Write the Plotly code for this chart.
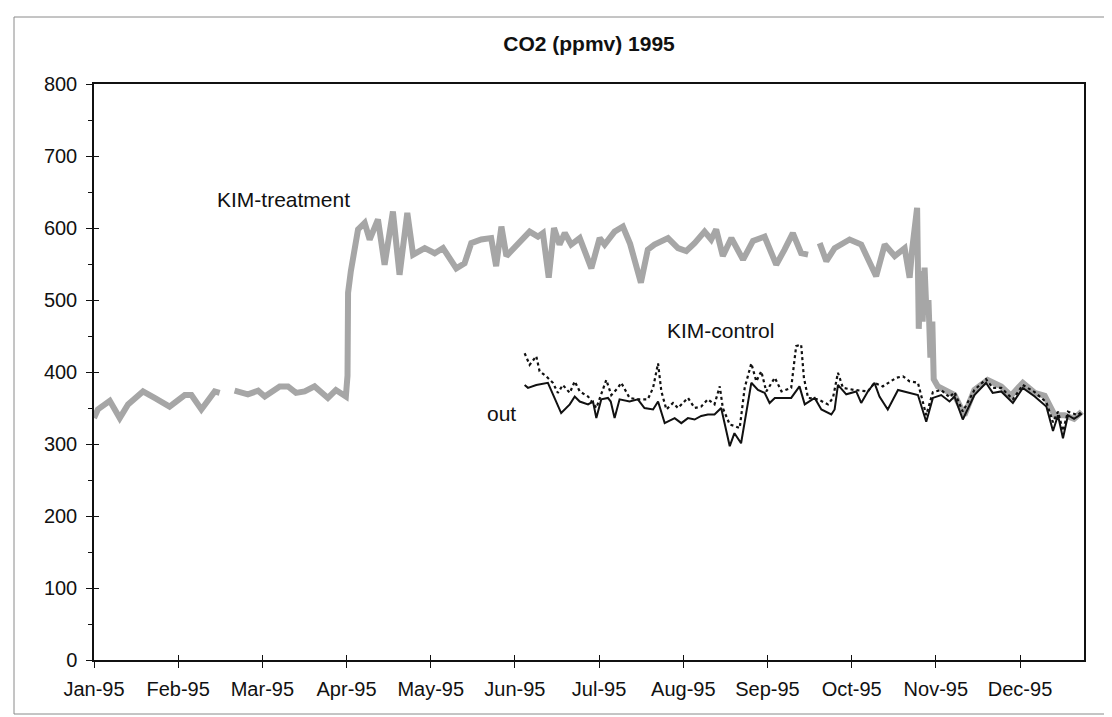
import plotly.graph_objects as go

# ---------------- data (day of 1995 axis, CO2 ppmv) ----------------
treat_day = [0, 1.4, 5.7, 9.3, 12.3, 17.7, 21.9, 27.3, 32.8, 35.2, 38.8, 43.6, 45.4, None,
             50.8, 55.6, 59.3, 61.7, 67.1, 70.1, 73.0, 76.1, 79.7, 84.5, 87.4, 91.0, 91.6,
             91.8, 92.8, 94.2, 95.4, 97.8, 99.6, 102.6, 105.0, 108.0, 110.4, 113.2, 115.3,
             119.5, 123.1, 126.1, 130.9, 133.9, 136.3, 139.9, 143.5, 145.3, 147.2, 149.0,
             153.2, 157.4, 160.4, 162.2, 164.3, 166.2, 168.2, 170.1, 172.4, 175.5, 179.7,
             182.7, 184.5, 188.1, 191.1, 193.7, 197.6, 200.1, 202.5, 207.4, 211.0, 214.0,
             217.0, 220.6, 223.0, 224.8, 227.2, 230.3, 234.5, 238.1, 242.3, 246.5, 249.5,
             252.5, 255.5, 258.0, None,
             262.2, 264.6, 267.6, 273.0, 277.2, 282.6, 285.7, 289.3, 292.9, 294.7, 295.6,
             296.5, 297.4, 298.0, 298.7, 299.4, 300.1, 300.8, 301.5, 302.2, 302.9, 303.4,
             304.9, 310.9, 314.5, 318.1, 322.9, 327.8, 331.3, 335.6, 339.9, 343.5, 347.1,
             350.7, 354.1, 356.9]
treat_val = [336, 348, 360, 336, 355, 373, 364, 352, 368, 368, 348, 373, 371, None,
             374, 369, 374, 366, 380, 380, 371, 373, 380, 364, 375, 366, 395,
             510, 540, 577, 598, 607, 584, 612, 549, 623, 535, 621, 563,
             572, 565, 572, 544, 551, 579, 584, 586, 547, 602, 561,
             577, 595, 588, 593, 531, 600, 577, 593, 577, 586, 544,
             586, 577, 595, 602, 578, 524, 570, 577, 586, 572, 568,
             579, 595, 584, 598, 561, 586, 556, 582, 588, 549, 570,
             593, 565, 563, None,
             579, 554, 572, 584, 577, 533, 577, 561, 572, 531, 570,
             600, 628, 460, 540, 470, 545, 480, 500, 420, 470, 390,
             380, 368, 340, 375, 389, 380, 367, 385, 371, 367, 340,
             340, 335, 345]

ctrl_day = [155.6, 157.4, 159.8, 161.0, 163.4, 165.8, 167.6, 169.4, 171.9, 173.7, 175.5,
            178.5, 181.5, 185.1, 186.9, 189.3, 190.5, 193.5, 196.5, 200.1, 202.0, 203.8,
            205.0, 206.8, 209.2, 211.0, 214.6, 217.0, 219.4, 221.8, 224.2, 226.1, 227.2,
            229.7, 231.4, 233.3, 235.1, 237.5, 239.3, 241.1, 242.9, 246.0, 248.4, 251.9,
            253.7, 255.5, 256.5, 258.0, 261.6, 265.2, 267.0, 268.8, 270.6, 274.8, 279.6,
            282.0, 285.0, 289.9, 292.3, 294.7, 297.7, 300.7, 303.1, 306.1, 309.1, 310.9,
            313.9, 318.1, 322.3, 324.7, 327.8, 332.0, 335.6, 339.9, 344.1, 346.5, 348.3,
            350.1, 351.9, 355.5, 356.9]
ctrl_val = [426, 410, 422, 401, 394, 385, 371, 382, 371, 387, 373,
            366, 350, 389, 368, 378, 385, 364, 362, 362, 378, 412,
            373, 348, 357, 350, 364, 350, 352, 362, 355, 380, 350,
            327, 325, 322, 378, 412, 387, 401, 373, 392, 373, 378,
            436, 438, 392, 364, 362, 355, 364, 399, 378, 375, 373,
            385, 380, 392, 394, 387, 385, 340, 372, 375, 365, 372,
            345, 375, 390, 378, 378, 362, 382, 372, 358, 330, 345,
            318, 345, 340, 345]

out_day = [155.6, 156.8, 159.8, 164.0, 168.8, 171.9, 173.7, 175.5, 178.5, 180.3, 181.5,
           183.3, 185.7, 186.7, 188.1, 189.9, 193.5, 196.5, 198.9, 202.0, 203.8, 206.2,
           209.8, 212.2, 214.6, 217.0, 219.4, 221.8, 224.2, 226.6, 229.7, 231.4, 233.8,
           237.5, 239.9, 242.3, 244.1, 246.0, 247.1, 251.9, 254.9, 256.8, 260.4, 262.8,
           266.4, 267.6, 268.8, 271.8, 275.4, 277.2, 279.6, 282.0, 283.8, 286.8, 290.5,
           294.1, 297.7, 300.7, 303.1, 306.1, 309.1, 310.9, 313.9, 318.1, 322.3, 324.7,
           327.8, 332.0, 335.6, 339.9, 344.1, 346.5, 348.3, 350.1, 351.9, 354.1, 356.9]
out_val = [382, 378, 382, 385, 343, 355, 366, 359, 355, 359, 336,
           362, 364, 359, 336, 362, 359, 362, 350, 348, 359, 329,
           336, 329, 336, 334, 339, 341, 341, 350, 297, 315, 301,
           385, 375, 371, 357, 364, 364, 364, 380, 355, 364, 348,
           341, 348, 382, 369, 373, 357, 373, 385, 366, 348, 375,
           371, 368, 331, 364, 368, 359, 366, 334, 368, 385, 371,
           373, 357, 378, 366, 352, 318, 340, 308, 340, 335, 342]

month_labels = ["Jan-95", "Feb-95", "Mar-95", "Apr-95", "May-95", "Jun-95",
                "Jul-95", "Aug-95", "Sep-95", "Oct-95", "Nov-95", "Dec-95"]
month_pos = [i * 365 / 12 for i in range(12)]
y_ticks = [0, 100, 200, 300, 400, 500, 600, 700, 800]

FONT = "Liberation Sans, Arial, Helvetica, sans-serif"

fig = go.Figure()
fig.add_trace(go.Scatter(x=treat_day, y=treat_val, mode="lines", name="KIM-treatment",
                         line=dict(color="#a6a6a6", width=6), connectgaps=False))
fig.add_trace(go.Scatter(x=ctrl_day, y=ctrl_val, mode="lines", name="KIM-control",
                         line=dict(color="#111111", width=2.2, dash="dot")))
fig.add_trace(go.Scatter(x=out_day, y=out_val, mode="lines", name="out",
                         line=dict(color="#111111", width=2)))
# invisible trace to anchor the overlay axes that draw the inner half of crossing ticks
fig.add_trace(go.Scatter(x=[None], y=[None], xaxis="x2", yaxis="y2", showlegend=False,
                         hoverinfo="skip"))

xr = [0, 357.7]
yr = [0, 800]
fig.update_layout(
    width=1112, height=717,
    paper_bgcolor="white", plot_bgcolor="white",
    margin=dict(l=86, r=36, t=76, b=65),
    showlegend=False,
    font=dict(family=FONT, size=20, color="#111111"),
    title=dict(text="<b>CO2 (ppmv) 1995</b>", x=0.5225, xanchor="center",
               y=0.95, yanchor="middle", font=dict(size=21, family=FONT, color="#111111")),
    xaxis=dict(range=xr, tickmode="array", tickvals=month_pos, ticktext=month_labels,
               showgrid=False, zeroline=False, showline=True, linecolor="#111111",
               linewidth=1.5, mirror=True, ticks="outside", ticklen=6, tickcolor="#111111",
               tickfont=dict(size=20), ticklabelstandoff=4),
    yaxis=dict(range=yr, tickmode="array", tickvals=y_ticks,
               showgrid=False, zeroline=False, showline=True, linecolor="#111111",
               linewidth=1.5, mirror=True, ticks="outside", ticklen=6, tickcolor="#111111",
               tickfont=dict(size=20), ticklabelstandoff=5,
               minor=dict(dtick=50, ticks="outside", ticklen=4, tickcolor="#111111")),
    xaxis2=dict(range=xr, overlaying="x", tickmode="array", tickvals=month_pos,
                showticklabels=False, showgrid=False, zeroline=False, showline=False,
                ticks="inside", ticklen=5, tickcolor="#111111"),
    yaxis2=dict(range=yr, overlaying="y", tickmode="array", tickvals=y_ticks,
                showticklabels=False, showgrid=False, zeroline=False, showline=False,
                ticks="inside", ticklen=5, tickcolor="#111111"),
)

fig.add_annotation(x=68.6, y=640, text="KIM-treatment", showarrow=False,
                   font=dict(size=21, family=FONT))
fig.add_annotation(x=226.5, y=458, text="KIM-control", showarrow=False,
                   font=dict(size=21, family=FONT))
fig.add_annotation(x=147.4, y=343, text="out", showarrow=False,
                   font=dict(size=21, family=FONT))

# outer chart-area border
W, H = 990.0, 576.0
fig.add_shape(type="rect", xref="paper", yref="paper",
              x0=(6 - 86) / W, x1=(1097 - 86) / W,
              y0=(652 - 706) / H, y1=(652 - 9) / H,
              line=dict(color="#8a8a8a", width=1), layer="below")

fig.write_html("out.html")
